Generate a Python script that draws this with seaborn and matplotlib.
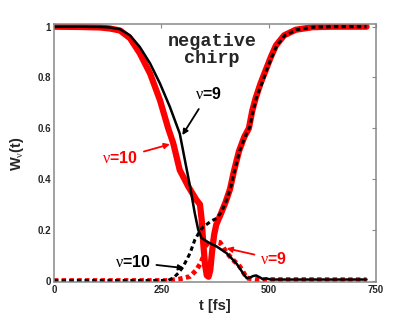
import seaborn as sns
import matplotlib
matplotlib.use("Agg")
import matplotlib.pyplot as plt
import pandas as pd

# black solid: nu=9, starts at 1
t_b9 = [0, 60, 107, 130, 154, 177, 200, 224, 247, 270, 293, 305, 317, 328, 336, 344,
        360, 379, 402, 415, 426, 440, 449, 457, 464, 471, 480, 487, 495, 505, 550, 728]
w_b9 = [1.0, 1.0, 0.999, 0.997, 0.99, 0.966, 0.92, 0.855, 0.776, 0.684, 0.579, 0.474, 0.37,
        0.265, 0.2, 0.167, 0.15, 0.134, 0.108, 0.085, 0.065, 0.03, 0.009, 0.012, 0.018, 0.02,
        0.012, 0.005, 0.008, 0.004, 0.004, 0.004]

# red solid: nu=10, starts at 1
t_r10 = [0, 60, 107, 130, 154, 177, 200, 224, 247, 266, 278, 293, 313, 332, 340, 344,
         348, 352, 356, 360, 364, 368, 373, 378, 388, 400, 410, 419, 431, 443, 454, 462,
         470, 481, 493, 505, 517, 536, 563, 602, 650, 728]
w_r10 = [1.0, 0.999, 0.997, 0.993, 0.985, 0.955, 0.895, 0.815, 0.71, 0.60, 0.54, 0.435,
         0.37, 0.317, 0.3, 0.24, 0.14, 0.06, 0.02, 0.015, 0.04, 0.11, 0.18, 0.22, 0.26,
         0.31, 0.36, 0.43, 0.51, 0.565, 0.6, 0.67, 0.72, 0.776, 0.828, 0.88, 0.926, 0.966,
         0.988, 0.998, 1.0, 1.0]

# black dashed: nu=10, starts at 0
t_b10 = [0, 200, 265, 278, 290, 301, 317, 328, 340, 348, 367, 379, 390, 402, 412, 421,
         433, 445, 456, 464, 472, 484, 495, 507, 519, 538, 565, 604, 650, 728]
w_b10 = [0.0, 0.0, 0.0, 0.01, 0.03, 0.055, 0.108, 0.16, 0.195, 0.212, 0.235, 0.245, 0.27,
         0.317, 0.37, 0.435, 0.514, 0.566, 0.605, 0.671, 0.723, 0.776, 0.828, 0.88, 0.926,
         0.966, 0.988, 0.998, 1.0, 1.0]

# red dotted: nu=9, starts at 0
t_r9 = [0, 265, 290, 317, 332, 342, 348, 352, 360, 370, 387, 402, 415, 433, 449, 470, 728]
w_r9 = [0.0, 0.0, 0.005, 0.016, 0.042, 0.07, 0.094, 0.134, 0.15, 0.155, 0.15, 0.11, 0.085,
        0.055, 0.01, 0.004, 0.003]

x_ticks = [0, 250, 500, 750]
y_ticks = [0, 0.2, 0.4, 0.6, 0.8, 1]
y_tick_labels = ["0", "0.2", "0.4", "0.6", "0.8", "1"]

sns.set_style("white")
plt.rcParams['font.family'] = ['Liberation Sans', 'DejaVu Sans']
plt.rcParams['mathtext.fontset'] = 'custom'
plt.rcParams['mathtext.rm'] = 'Liberation Sans:bold'
plt.rcParams['mathtext.bf'] = 'Liberation Sans:bold'
plt.rcParams['mathtext.it'] = 'Liberation Serif'

fig = plt.figure(figsize=(4.15, 3.18), dpi=100)
ax = fig.add_axes([0.130, 0.113, 0.776, 0.811])

df_r10 = pd.DataFrame({'t': t_r10, 'w': w_r10})
df_r9 = pd.DataFrame({'t': t_r9, 'w': w_r9})
df_b9 = pd.DataFrame({'t': t_b9, 'w': w_b9})
df_b10 = pd.DataFrame({'t': t_b10, 'w': w_b10})

sns.lineplot(data=df_r10, x='t', y='w', color='#ff0000', linewidth=4.5, ax=ax,
             solid_capstyle='round', solid_joinstyle='round')
sns.lineplot(data=df_r9, x='t', y='w', color='#ff0000', linewidth=3.5, ax=ax,
             linestyle=(0, (0.9, 0.7)))
sns.lineplot(data=df_b9, x='t', y='w', color='black', linewidth=1.8, ax=ax,
             solid_joinstyle='round')
sns.lineplot(data=df_b10, x='t', y='w', color='black', linewidth=2.2, ax=ax,
             linestyle=(0, (1.45, 1.05)))

ax.set_xlim(0, 750)
ax.set_ylim(-0.006, 1.01)
ax.set_xticks(x_ticks)
ax.set_xticklabels([str(v) for v in x_ticks])
ax.set_yticks(y_ticks)
ax.set_yticklabels(y_tick_labels)
ax.tick_params(direction='in', length=3, width=0.8, color='#888888', labelsize=7,
               top=True, right=True, pad=2)
for lab in ax.get_xticklabels() + ax.get_yticklabels():
    lab.set_fontweight('bold')
for sp in ax.spines.values():
    sp.set_color('#888888')
    sp.set_linewidth(1.1)

ax.set_xlabel('t [fs]', fontsize=10.5, fontweight='bold', labelpad=3)
ax.set_ylabel(r'W$_\nu$(t)', fontsize=10.5, fontweight='bold', labelpad=8)

ax.text(368, 0.91, 'negative\nchirp', family='Liberation Mono', fontweight='bold',
        fontsize=13.3, ha='center', va='center', linespacing=1.0)

lab_kw = dict(fontsize=11.5, fontweight='bold', ha='center', va='center')
ax.annotate(r'$\nu$=9', xy=(299, 0.573), xytext=(359, 0.734), color='black',
            arrowprops=dict(arrowstyle='-|>', color='black', lw=1.3, mutation_scale=8,
                            shrinkA=3, shrinkB=0), **lab_kw)
ax.annotate(r'$\nu$=10', xy=(270, 0.537), xytext=(154, 0.482), color='#ff0000',
            arrowprops=dict(arrowstyle='-|>', color='#ff0000', lw=1.3, mutation_scale=8,
                            shrinkA=2, shrinkB=0), **lab_kw)
ax.annotate(r'$\nu$=10', xy=(303, 0.049), xytext=(183, 0.072), color='black',
            arrowprops=dict(arrowstyle='-|>', color='black', lw=1.3, mutation_scale=8,
                            shrinkA=2, shrinkB=0), **lab_kw)
ax.annotate(r'$\nu$=9', xy=(402, 0.127), xytext=(512, 0.085), color='#ff0000',
            arrowprops=dict(arrowstyle='-|>', color='#ff0000', lw=1.3, mutation_scale=8,
                            shrinkA=2, shrinkB=0), **lab_kw)

fig.savefig('out.png', dpi=100)
